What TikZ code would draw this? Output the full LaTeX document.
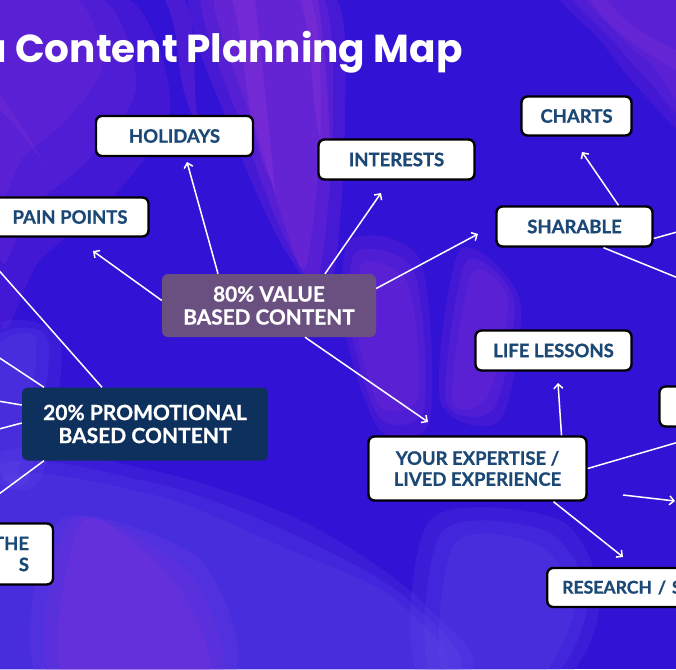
\documentclass[tikz,border=0pt]{standalone}
\usepackage{fontspec}
\setmainfont{Lato}[BoldFeatures={FakeBold=0.8}]
\newfontfamily\titlefont{Poppins}
\usetikzlibrary{arrows.meta,calc}
\definecolor{bgbase}{RGB}{50,18,212}
\definecolor{bgpurple}{RGB}{140,52,215}
\definecolor{bgmagenta}{RGB}{165,60,215}
\definecolor{bglav}{RGB}{100,80,235}
\definecolor{txtblue}{RGB}{28,72,118}
\definecolor{valpurple}{RGB}{106,80,128}
\definecolor{pronavy}{RGB}{14,48,92}
\tikzset{
  wbox/.style={draw=black, line width=2.4pt, fill=white, rounded corners=6pt,
    text=txtblue, font=\bfseries\fontsize{18.5}{21}\selectfont, inner sep=0pt, align=center},
  valbox/.style={fill=valpurple, rounded corners=6pt, text=white, inner sep=0pt,
    font=\bfseries\fontsize{20.8}{23}\selectfont, align=center},
  probox/.style={fill=pronavy, rounded corners=6pt, text=white, inner sep=0pt,
    font=\bfseries\fontsize{21}{23}\selectfont, align=center},
  conn/.style={draw=white, line width=1.5pt},
  arr/.style={conn, -{Straight Barb[length=4.5pt,width=9pt,line width=1.5pt]}},
  bgpatch/.style={fill=#1, opacity=.18},
  streak/.style={fill=#1, opacity=.22},
}
\begin{document}
\begin{tikzpicture}[x=1pt,y=-1pt]
\useasboundingbox (0,0) rectangle (676,669);
\clip (0,0) rectangle (676,669);
% background
\fill[bgbase] (0,0) rectangle (676,669);
\foreach \s in {1,0.8,0.6}{
  \fill[bgpatch=bgpurple] plot[smooth cycle] coordinates {(0,0) ({130*\s},0) ({170*\s},{110*\s}) ({110*\s},{200*\s}) ({40*\s},{260*\s}) (0,{320*\s})};
}
\foreach \d in {0,12,24}{
  \fill[bgpatch=bgmagenta] plot[smooth cycle] coordinates {({190+\d},-10) ({330-\d},-10) ({345-\d},120) ({330-\d},{290-\d}) ({285},{250-\d}) ({235+\d},140)};
  \fill[bgpatch=bgpurple] plot[smooth cycle] coordinates {({560+\d},-10) (690,-10) (690,{130-\d}) ({640+\d/2},{90-\d}) ({600+\d},40)};
  \fill[bgpatch=bgpurple] plot[smooth cycle] coordinates {({350+\d/2},{240+\d}) ({420-\d/2},{260+\d}) ({430-\d/2},{420-\d}) ({380},{430-\d}) ({345+\d/2},330)};
  \fill[bgpatch=bglav] plot[smooth cycle] coordinates {(-10,{460+\d}) (150,{470+\d}) ({300-\d},{520+\d}) ({420-\d},600) ({450-\d},680) (-10,680)};
  \fill[bgpatch=bglav] plot[smooth cycle] coordinates {({430+\d},{520+\d}) ({560-\d},{520+\d}) ({600-\d},600) ({560-\d},680) ({420+\d},680)};
  \fill[bgpatch=bgpurple] plot[smooth cycle] coordinates {({460+\d/2},{250+\d}) ({520-\d/2},300) ({500-\d/2},{420-\d}) ({440+\d/2},400)};
  \fill[bgpatch=bglav] plot[smooth cycle] coordinates {(-10,{330+\d}) ({60-\d},340) ({40-\d},480) (-10,{470-\d})};
  \fill[bgpatch=bgpurple] plot[smooth cycle] coordinates {({60+\d},520) ({200-\d},{560+\d}) ({230-\d},680) ({40+\d},680)};
}
% flowing streaks
\fill[streak=bgmagenta] (165,0) .. controls (185,40) and (170,80) .. (200,130) .. controls (190,90) and (200,40) .. (185,0) -- cycle;
\fill[streak=bgmagenta] (232,0) .. controls (250,60) and (240,120) .. (275,190) .. controls (268,120) and (262,60) .. (255,0) -- cycle;
\fill[streak=bgmagenta] (300,0) .. controls (318,50) and (305,110) .. (330,170) .. controls (330,110) and (325,50) .. (318,0) -- cycle;
\fill[streak=bgpurple] (590,0) .. controls (610,30) and (640,50) .. (676,70) -- (676,50) .. controls (645,35) and (620,20) .. (608,0) -- cycle;
\fill[streak=bgpurple] (0,110) .. controls (30,140) and (50,170) .. (60,200) .. controls (45,160) and (25,130) .. (0,95) -- cycle;

% title
\node[anchor=base west, inner sep=0pt, text=white,
  font=\titlefont\bfseries\fontsize{39}{42}\selectfont] (title) at (15,63) {\llap{a\ }Content Planning Map};

% nodes
\node[wbox, minimum width=157pt, minimum height=40pt] (hol) at (174.5,136) {HOLIDAYS};
\node[wbox, minimum width=156pt, minimum height=40pt] (int) at (396.5,159.5) {INTERESTS};
\node[wbox, minimum width=110pt, minimum height=39pt] (cha) at (576.5,116) {CHARTS};
\node[wbox, minimum width=157pt, minimum height=39pt] (pain) at (70,217) {PAIN POINTS};
\node[wbox, minimum width=156pt, minimum height=40pt] (sha) at (574.5,226.5) {SHARABLE};
\node[valbox, minimum width=214pt, minimum height=63pt] (val) at (269,305.5) {80\% VALUE\\BASED CONTENT};
\node[wbox, minimum width=156pt, minimum height=40pt] (life) at (553.5,350.5) {LIFE LESSONS};
\node[wbox, minimum width=157pt, minimum height=40pt] (rbox) at (738,406.5) {};
\node[probox, minimum width=246pt, minimum height=73pt] (pro) at (145,424) {20\% PROMOTIONAL\\BASED CONTENT};
\node[wbox, minimum width=218pt, minimum height=64pt, font=\bfseries\fontsize{18.5}{21}\selectfont] (exp) at (477.5,468.5) {YOUR EXPERTISE /\\LIVED EXPERIENCE};
\node[wbox, minimum width=157pt, minimum height=61pt, text width=110pt, align=right, inner xsep=24pt] (the) at (-26,554) {THE\\S\hspace{22pt}};
\node[wbox, minimum width=200pt, minimum height=39pt, anchor=west, text width=170pt, align=left, inner xsep=15pt, font=\bfseries\fontsize{17.6}{21}\selectfont] (res) at (546,587.5) {RESEARCH / S};

% free ends
\coordinate (hT) at (187,162);
\coordinate (iT) at (381,193);
\coordinate (sT) at (478,234);
\coordinate (pT) at (93,251);
\coordinate (eT) at (428,422);
\coordinate (cT) at (582,152);
\coordinate (lT) at (558,383);
\coordinate (rT) at (623,557);
\coordinate (xA) at (623,495);
\coordinate (xB) at (675,501);
\coordinate (o1) at (720,220);
\coordinate (o2) at (720,295);
\coordinate (o3) at (720,430);
\coordinate (L1) at (-20,249);
\coordinate (L2) at (-20,345);
\coordinate (L3) at (-20,398);
\coordinate (L4) at (-20,434);
\coordinate (L5) at (-20,508);

% connectors
\draw[arr] ([xshift=-51pt]val.north) -- (hT);
\draw[arr] ([xshift=56pt]val.north) -- (iT);
\draw[arr] ([yshift=17pt]val.east) -- (sT);
\draw[arr] ([yshift=5pt]val.west) -- (pT);
\draw[arr] ([xshift=36pt]val.south) -- (eT);
\draw[arr] ([xshift=44pt]sha.north) -- (cT);
\draw[conn] ([yshift=-12pt]sha.east) -- (o1);
\draw[conn] ([xshift=29pt]sha.south) -- (o2);
\draw[arr] ([xshift=84pt]exp.north) -- (lT);
\draw[conn] (exp.east) -- (o3);
\draw[arr] (xA) -- (xB);
\draw[arr] ([xshift=76pt]exp.south) -- (rT);
\draw[conn] ([xshift=-43pt]pro.north) -- (L1);
\draw[conn] ([xshift=-101pt]pro.north) -- (L2);
\draw[conn] ([yshift=19pt]pro.west) -- (L3);
\draw[conn] ([yshift=1pt]pro.west) -- (L4);
\draw[conn] ([xshift=-101pt]pro.south) -- (L5);
\end{tikzpicture}
\end{document}
